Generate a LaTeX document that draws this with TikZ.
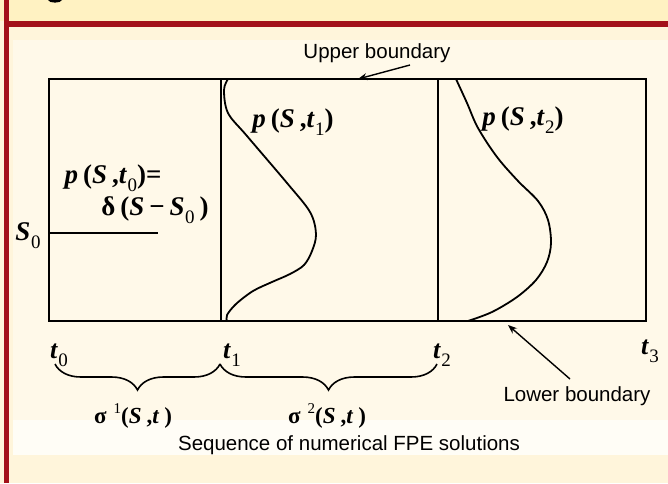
\documentclass[tikz,border=0pt]{standalone}
\usepackage{fontspec}
\setmainfont{Liberation Serif}
\newfontfamily\sansf{Liberation Sans}
\usetikzlibrary{arrows.meta,decorations.pathreplacing}
\definecolor{topband}{HTML}{FFF2C2}
\definecolor{barred}{HTML}{A3111A}
\definecolor{outerbg}{HTML}{FFF5DB}
\definecolor{panelbg}{HTML}{FFFDF6}
\definecolor{dotbg}{HTML}{FFF9E9}
\newcommand\vi[1]{\textit{#1}}
\newcommand\sbx[1]{\kern0.5pt\raisebox{-0.3em}{\fontsize{19}{19}\selectfont\mdseries #1}}
\newcommand\gap{\kern5pt}
\begin{document}
\begin{tikzpicture}[x=1pt,y=-1pt,
  mathlbl/.style={inner sep=0pt,font=\fontsize{27}{29}\selectfont\bfseries},
  tlbl/.style={inner sep=0pt,font=\fontsize{26}{28}\selectfont\bfseries},
  siglbl/.style={inner sep=0pt,font=\fontsize{23}{25}\selectfont\bfseries},
  sanslbl/.style={inner sep=0pt,font=\sansf\fontsize{20.5}{22}\selectfont},
  frameline/.style={line width=2pt,black},
  curveline/.style={line width=1.8pt,black,line join=round,line cap=round},
  pointer/.style={line width=1.4pt,-{Stealth[length=9pt,width=7pt]}},
  bracestyle/.style={line width=1.6pt,decorate,decoration={brace,mirror,amplitude=26pt,aspect=0.5}}]
\useasboundingbox (0,0) rectangle (668,483);
% backgrounds
\fill[outerbg] (0,0) rectangle (668,483);
\fill[topband] (0,0) rectangle (668,21);
\fill[panelbg] (13,40) rectangle (668,455);
\fill[dotbg] (13,40) rectangle (668,420);
\fill[barred] (4,21) rectangle (668,27);
\fill[barred] (4,0) rectangle (9,483);
% cut-off title fragment (only its lower rim is visible)
\coordinate (frL) at (48,0);
\coordinate (frR) at (62,0);
\fill[black] (frL) .. controls (49,3.5) and (61,3.5) .. (frR) -- cycle;
% frame
\coordinate (bl) at (49,321);
\coordinate (tr) at (646,79);
\draw[frameline] (bl) rectangle (tr);
\coordinate (d1t) at (221,79);
\coordinate (d1b) at (221,321);
\coordinate (d2t) at (438,79);
\coordinate (d2b) at (438,321);
\draw[line width=1.5pt] (d1t) -- (d1b);
\draw[line width=1.5pt] (d2t) -- (d2b);
% S0 line
\coordinate (s0a) at (49,233);
\coordinate (s0b) at (158,233);
\draw[line width=1.8pt] (s0a) -- (s0b);
\node[mathlbl,anchor=center] (s0) at (28,236) {\vi{S}\sbx{0}};
% curves
\draw[curveline] plot[smooth,tension=0.55] coordinates {(228,79) (224,90) (228,113) (247,136) (287,183) (310,212) (316,234) (312,251) (304,265) (290,274) (272,282) (253,291) (236,304) (227,315) (227,321)};
\draw[curveline] plot[smooth,tension=0.55] coordinates {(456,79) (467,103) (478,128) (497,157) (518,181) (538,201) (548,220) (551,243) (547,262) (536,280) (517,297) (492,312) (468,321)};
% function labels
\node[mathlbl] (p0) at (113,178) {\vi{p}\gap(\vi{S}\gap,\vi{t}\sbx{0})=};
\node[mathlbl] (d0) at (155,210) {δ\gap(\vi{S}\gap−\gap\vi{S}\sbx{0}\gap)};
\node[mathlbl] (p1) at (293,122) {\vi{p}\gap(\vi{S}\gap,\vi{t}\sbx{1})};
\node[mathlbl] (p2) at (523,120) {\vi{p}\gap(\vi{S}\gap,\vi{t}\sbx{2})};
% boundary labels and arrows
\node[sanslbl] (ub) at (377,53) {Upper boundary};
\coordinate (ubtail) at (410,65);
\coordinate (ubhead) at (358,79);
\draw[pointer] (ubtail) -- (ubhead);
\node[sanslbl] (lb) at (577,396) {Lower boundary};
\coordinate (lbtail) at (570,379);
\coordinate (lbhead) at (508,325);
\draw[pointer] (lbtail) -- (lbhead);
% time labels
\node[tlbl] (t0) at (59,355) {\vi{t}\sbx{0}};
\node[tlbl] (t1) at (232,355) {\vi{t}\sbx{1}};
\node[tlbl] (t2) at (442,355) {\vi{t}\sbx{2}};
\node[tlbl] (t3) at (650,351) {\vi{t}\sbx{3}};
% braces
\coordinate (b0) at (55,364);
\coordinate (b1) at (220,364);
\coordinate (b2) at (437,364);
\draw[bracestyle] (b0) -- (b1);
\draw[bracestyle] (b1) -- (b2);
\node[siglbl] (sg1) at (133,416) {σ\kern7pt\raisebox{0.45em}{\fontsize{15}{15}\selectfont\mdseries 1}(\vi{S}\gap,\vi{t}\gap)};
\node[siglbl] (sg2) at (327,416) {σ\kern7pt\raisebox{0.45em}{\fontsize{15}{15}\selectfont\mdseries 2}(\vi{S}\gap,\vi{t}\gap)};
\node[sanslbl] (seq) at (349,445) {Sequence of numerical FPE solutions};
\end{tikzpicture}
\end{document}
